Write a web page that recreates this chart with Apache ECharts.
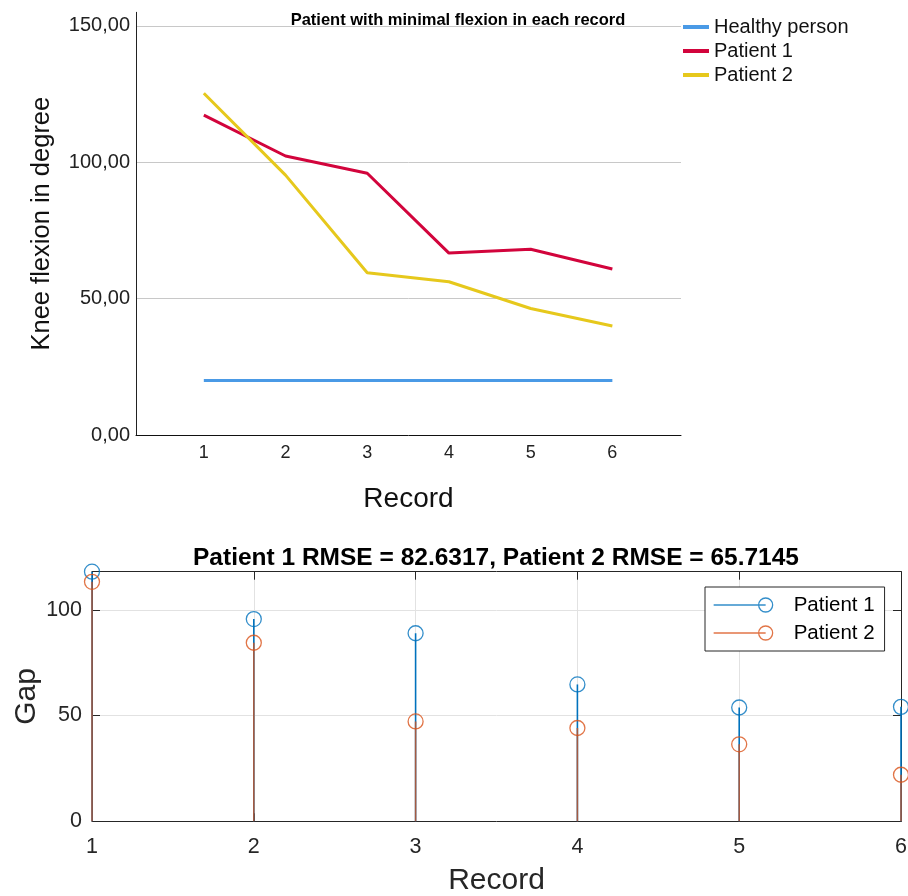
<!DOCTYPE html>
<html>
<head>
<meta charset="utf-8">
<script src="https://cdn.jsdelivr.net/npm/echarts@6/dist/echarts.min.js"></script>
<style>html,body{margin:0;padding:0;background:#fff;}#c{width:908px;height:896px;}</style>
</head>
<body>
<div id="c"></div>
<script>
// ---- data ----
const records = [1, 2, 3, 4, 5, 6];
const healthy = [20, 20, 20, 20, 20, 20];
const patient1 = [117.3, 102.3, 96.0, 66.7, 68.1, 60.9];
const patient2 = [125.3, 95.3, 59.5, 56.2, 46.4, 40.0];
const gap1 = [118.0, 95.6, 88.9, 64.7, 53.8, 54.1];
const gap2 = [113.2, 84.4, 47.2, 44.1, 36.4, 22.0];
const topTicks = [0, 50, 100, 150];
const topTickLabels = ['0,00', '50,00', '100,00', '150,00'];
const topTitle = 'Patient with minimal flexion in each record';
const bottomTitle = 'Patient 1 RMSE = 82.6317, Patient 2 RMSE = 65.7145';

const FONT = "'Liberation Sans', Arial, Helvetica, sans-serif";
const pairs = (xs, ys) => xs.map((x, i) => [x, ys[i]]);

const chart = echarts.init(document.getElementById('c'), null, {renderer: 'canvas'});

function stemSeries(name, vals, color, opacity, z) {
  return {
    name: name + ' stem', type: 'custom', xAxisIndex: 1, yAxisIndex: 1, z: z,
    silent: true, clip: false,
    data: pairs(records, vals),
    renderItem: function (params, api) {
      const p0 = api.coord([api.value(0), 0]);
      const p1 = api.coord([api.value(0), api.value(1)]);
      return {type: 'line', shape: {x1: p0[0], y1: p0[1], x2: p1[0], y2: p1[1]},
        style: {stroke: color, lineWidth: 1.6, opacity: opacity}};
    }
  };
}

const legendIcon = 'path://M0,7L52,7M45,7a7,7 0 1,0 14,0a7,7 0 1,0 -14,0';

const option = {
  backgroundColor: '#fff',
  animation: false,
  textStyle: {fontFamily: FONT},
  title: [
    {text: topTitle, left: 453, top: 5, textAlign: 'center',
     textStyle: {fontFamily: FONT, fontSize: 16.5, fontWeight: 'bold', color: '#000', lineHeight: 20}},
    {text: bottomTitle, left: 491, top: 538, textAlign: 'center',
     textStyle: {fontFamily: FONT, fontSize: 24.5, fontWeight: 'bold', color: '#000', lineHeight: 30}}
  ],
  legend: [
    {orient: 'vertical', left: 678, top: 11, itemGap: 2, icon: 'rect', padding: 5,
     itemWidth: 26, itemHeight: 4,
     data: ['Healthy person', 'Patient 1', 'Patient 2'],
     textStyle: {fontFamily: FONT, fontSize: 20, color: '#111', lineHeight: 22}},
    {orient: 'vertical', left: 705, top: 587, itemGap: 4,
     padding: [6, 10, 6, 8],
     backgroundColor: '#fff', borderColor: '#262626', borderWidth: 1, borderRadius: 0,
     itemWidth: 59, itemHeight: 14,
     data: [
       {name: 'Gap Patient 1', icon: legendIcon,
        itemStyle: {color: 'transparent', borderColor: '#0072BD', borderWidth: 1.3}},
       {name: 'Gap Patient 2', icon: legendIcon,
        itemStyle: {color: 'transparent', borderColor: '#D95319', borderWidth: 1.3}}
     ],
     formatter: function (n) { return n.replace('Gap ', ''); },
     textStyle: {fontFamily: FONT, fontSize: 20.5, color: '#000', lineHeight: 24, padding: [0, 0, 0, 16]}}
  ],
  grid: [
    {left: 136, top: 12.3, width: 545, height: 422.7, outerBoundsMode: 'none', containLabel: false},
    {left: 92, right: 7, top: 571.7, height: 249.6, outerBoundsMode: 'none', containLabel: false}
  ],
  xAxis: [
    {type: 'value', gridIndex: 0, min: 0.17, max: 6.84,
     name: 'Record', nameLocation: 'middle', nameGap: 50,
     nameTextStyle: {fontFamily: FONT, fontSize: 28, color: '#111'},
     axisLine: {show: true, lineStyle: {color: '#111', width: 1}},
     axisTick: {show: false}, splitLine: {show: false},
     axisLabel: {customValues: records, fontFamily: FONT, fontSize: 18, color: '#222', margin: 9}},
    {type: 'value', gridIndex: 1, min: 1, max: 6, interval: 1, position: 'bottom',
     name: 'Record', nameLocation: 'middle', nameGap: 44,
     nameTextStyle: {fontFamily: FONT, fontSize: 30, color: '#262626'},
     axisLine: {show: true, onZero: false, lineStyle: {color: '#262626', width: 1}},
     axisTick: {show: true, inside: true, length: 8, lineStyle: {color: '#262626'}},
     splitLine: {show: true, lineStyle: {color: '#e2e2e2', width: 1}},
     axisLabel: {fontFamily: FONT, fontSize: 21.5, color: '#262626', margin: 15}},
    {type: 'value', gridIndex: 1, min: 1, max: 6, interval: 1, position: 'top',
     axisLine: {show: true, onZero: false, lineStyle: {color: '#262626', width: 1}},
     axisTick: {show: true, inside: true, length: 8, lineStyle: {color: '#262626'}},
     splitLine: {show: false}, axisLabel: {show: false}}
  ],
  yAxis: [
    {type: 'value', gridIndex: 0, min: 0, max: 155, interval: 50,
     name: 'Knee flexion in degree', nameLocation: 'middle', nameGap: 81,
     nameTextStyle: {fontFamily: FONT, fontSize: 25.5, color: '#111'},
     axisLine: {show: true, lineStyle: {color: '#222', width: 1}},
     axisTick: {show: false},
     splitLine: {show: true, showMinLine: false, showMaxLine: false, lineStyle: {color: '#c8c8c8', width: 1}},
     axisLabel: {showMaxLabel: false, fontFamily: FONT, fontSize: 20, color: '#222', margin: 6,
       formatter: function (v) { const i = topTicks.indexOf(v); return i >= 0 ? topTickLabels[i] : ''; }}},
    {type: 'value', gridIndex: 1, min: 0, max: 118, interval: 50, position: 'left',
     name: 'Gap', nameLocation: 'middle', nameGap: 50, nameMoveOverlap: false,
     nameTextStyle: {fontFamily: FONT, fontSize: 30, color: '#262626'},
     axisLine: {show: true, onZero: false, lineStyle: {color: '#262626', width: 1}},
     axisTick: {show: true, inside: true, length: 8, lineStyle: {color: '#262626'}},
     splitLine: {show: true, showMaxLine: false, lineStyle: {color: '#e2e2e2', width: 1}},
     axisLabel: {showMaxLabel: false, fontFamily: FONT, fontSize: 21.5, color: '#262626', margin: 10}},
    {type: 'value', gridIndex: 1, min: 0, max: 118, interval: 50, position: 'right',
     axisLine: {show: true, onZero: false, lineStyle: {color: '#262626', width: 1}},
     axisTick: {show: true, inside: true, length: 8, lineStyle: {color: '#262626'}},
     splitLine: {show: false}, axisLabel: {show: false}}
  ],
  series: [
    {name: 'Healthy person', type: 'line', xAxisIndex: 0, yAxisIndex: 0,
     data: pairs(records, healthy), showSymbol: false, symbol: 'none',
     color: '#4a9ae6', lineStyle: {color: '#4a9ae6', width: 3}},
    {name: 'Patient 1', type: 'line', xAxisIndex: 0, yAxisIndex: 0,
     data: pairs(records, patient1), showSymbol: false, symbol: 'none',
     color: '#d2043c', lineStyle: {color: '#d2043c', width: 3}},
    {name: 'Patient 2', type: 'line', xAxisIndex: 0, yAxisIndex: 0,
     data: pairs(records, patient2), showSymbol: false, symbol: 'none',
     color: '#e6c81c', lineStyle: {color: '#e6c81c', width: 3}},
    stemSeries('Gap Patient 1', gap1, '#0072BD', 1, 3),
    stemSeries('Gap Patient 2', gap2, '#D95319', 0.75, 4),
    {name: 'Gap Patient 1', type: 'scatter', xAxisIndex: 1, yAxisIndex: 1, z: 5, clip: false,
     data: pairs(records, gap1), symbol: 'circle', symbolSize: 15,
     itemStyle: {color: 'transparent', borderColor: '#0072BD', borderWidth: 1.3}},
    {name: 'Gap Patient 2', type: 'scatter', xAxisIndex: 1, yAxisIndex: 1, z: 5, clip: false,
     data: pairs(records, gap2), symbol: 'circle', symbolSize: 15,
     itemStyle: {color: 'transparent', borderColor: '#D95319', borderWidth: 1.3}}
  ]
};
chart.setOption(option);
</script>
</body>
</html>
